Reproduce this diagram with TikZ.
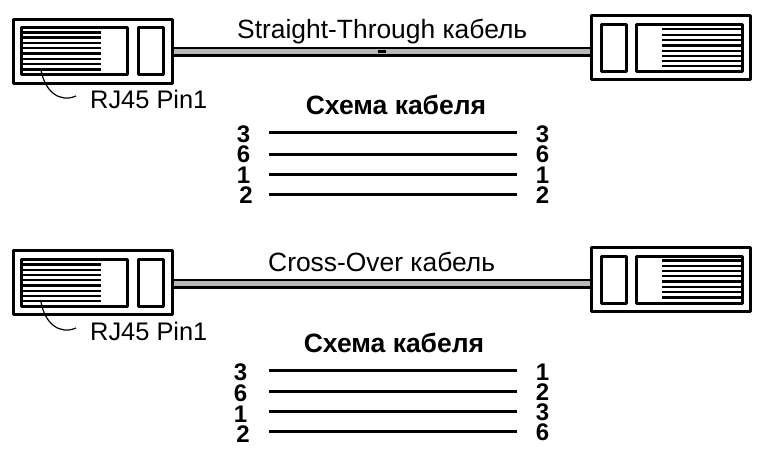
\documentclass[tikz,border=0pt]{standalone}
\usepackage{fontspec}
\setmainfont{Liberation Sans}
\begin{document}
\begin{tikzpicture}[x=1pt,y=-1pt,line join=round,
    plug/.style={draw,line width=3pt,inner sep=0pt,outer sep=0pt,minimum width=159pt,minimum height=64pt},
    slot/.style={draw,line width=3pt,inner sep=0pt,outer sep=0pt,minimum width=106pt,minimum height=47pt},
    clip/.style={draw,line width=3pt,inner sep=0pt,outer sep=0pt,minimum width=25pt,minimum height=47pt},
    cableout/.style={line width=10pt},
    cablein/.style={line width=4.5pt,color=black!28},
    contact/.style={line width=2.3pt},
    wire/.style={line width=3pt},
    leader/.style={line width=1.2pt},
    caption/.style={inner sep=0pt,anchor=base west,font=\fontsize{26.4}{26.4}\selectfont},
    pinlabel/.style={inner sep=0pt,anchor=base west,font=\fontsize{25.4}{25.4}\selectfont},
    heading/.style={inner sep=0pt,anchor=base,font=\fontsize{26.5}{26.5}\selectfont\bfseries},
    pinno/.style={inner sep=0pt,anchor=center,font=\fontsize{24}{24}\selectfont\bfseries}]
  \useasboundingbox (0,0) rectangle (757,450);

  % upper cable
  \coordinate (ca) at (172,51.7);
  \coordinate (cb) at (592,51.7);
  \draw[cableout] (ca) -- (cb);
  \draw[cablein] (ca) -- (cb);
  \coordinate (ta) at (378,51);
  \coordinate (tb) at (386,51);
  \draw[line width=3pt] (ta) -- (tb);
  \node [plug] (a) at (93,51) {};
  \node [slot] (as) at (74,50.5) {};
  \node [clip] (ac) at (151,50.5) {};
  \node [plug] (b) at (671,47) {};
  \node [slot] (bs) at (689.5,47.5) {};
  \node [clip] (bc) at (613.5,47.5) {};

  \draw[contact] (21,32.5) -- (101,32.5);
  \draw[contact] (21,37.5) -- (101,37.5);
  \draw[contact] (21,42.7) -- (101,42.7);
  \draw[contact] (21,48) -- (101,48);
  \draw[contact] (21,53.5) -- (101,53.5);
  \draw[contact] (21,59) -- (101,59);
  \draw[contact] (21,64.2) -- (101,64.2);
  \draw[contact] (21,69.5) -- (101,69.5);

  \draw[contact] (662,29.3) -- (742,29.3);
  \draw[contact] (662,34.7) -- (742,34.7);
  \draw[contact] (662,40) -- (742,40);
  \draw[contact] (662,45.5) -- (742,45.5);
  \draw[contact] (662,50.7) -- (742,50.7);
  \draw[contact] (662,56) -- (742,56);
  \draw[contact] (662,60.7) -- (742,60.7);
  \draw[contact] (662,66) -- (742,66);

  \coordinate (pa) at (41,70);
  \coordinate (pb) at (76,96);
  \draw[leader] (pa) .. controls (45,92) and (60,103) .. (pb);
  \node [pinlabel] (pinlabela) at (90,108.3) {RJ45 Pin1};
  \node [caption] (titlea) at (237,38.3) {Straight-Through кабель};
  \node [heading] (schemea) at (396,114) {Схема кабеля};

  \coordinate (w1a) at (269,132.7);
  \coordinate (w1b) at (517,132.7);
  \coordinate (w2a) at (269,154);
  \coordinate (w2b) at (517,154);
  \coordinate (w3a) at (269,174);
  \coordinate (w3b) at (517,174);
  \coordinate (w4a) at (269,194.3);
  \coordinate (w4b) at (517,194.3);
  \draw[wire] (w1a) -- (w1b);
  \draw[wire] (w2a) -- (w2b);
  \draw[wire] (w3a) -- (w3b);
  \draw[wire] (w4a) -- (w4b);
  \node [pinno] (l1) at (243.5,134) {3};
  \node [pinno] (l2) at (243.5,154) {6};
  \node [pinno] (l3) at (243.5,175) {1};
  \node [pinno] (l4) at (246,195) {2};
  \node [pinno] (r1) at (542.5,134) {3};
  \node [pinno] (r2) at (542.5,154) {6};
  \node [pinno] (r3) at (542.5,175) {1};
  \node [pinno] (r4) at (542.5,195) {2};

  % lower cable
  \coordinate (cc) at (172,283.7);
  \coordinate (cd) at (592,283.7);
  \draw[cableout] (cc) -- (cd);
  \draw[cablein] (cc) -- (cd);
  \node [plug] (c) at (93,282) {};
  \node [slot] (cs) at (74,282.5) {};
  \node [clip] (cl) at (151,282.5) {};
  \node [plug] (d) at (671,279.5) {};
  \node [slot] (ds) at (689.5,279.5) {};
  \node [clip] (dl) at (613.5,279.5) {};

  \draw[contact] (21,264.5) -- (101,264.5);
  \draw[contact] (21,269.7) -- (101,269.7);
  \draw[contact] (21,275) -- (101,275);
  \draw[contact] (21,280.3) -- (101,280.3);
  \draw[contact] (21,285.5) -- (101,285.5);
  \draw[contact] (21,290.7) -- (101,290.7);
  \draw[contact] (21,296) -- (101,296);
  \draw[contact] (21,301) -- (101,301);

  \draw[contact] (662,260.5) -- (742,260.5);
  \draw[contact] (662,265.8) -- (742,265.8);
  \draw[contact] (662,271) -- (742,271);
  \draw[contact] (662,276.3) -- (742,276.3);
  \draw[contact] (662,281.5) -- (742,281.5);
  \draw[contact] (662,287) -- (742,287);
  \draw[contact] (662,292.2) -- (742,292.2);
  \draw[contact] (662,297.5) -- (742,297.5);

  \coordinate (pc) at (41,302);
  \coordinate (pd) at (76,328);
  \draw[leader] (pc) .. controls (45,324) and (60,335) .. (pd);
  \node [pinlabel] (pinlabelb) at (90,340) {RJ45 Pin1};
  \node [caption] (titleb) at (268,271) {Cross-Over кабель};
  \node [heading] (schemeb) at (394,352) {Схема кабеля};

  \coordinate (w5a) at (269,370);
  \coordinate (w5b) at (517,370);
  \coordinate (w6a) at (269,391.7);
  \coordinate (w6b) at (517,391.7);
  \coordinate (w7a) at (269,411);
  \coordinate (w7b) at (517,411);
  \coordinate (w8a) at (269,431.7);
  \coordinate (w8b) at (517,431.7);
  \draw[wire] (w5a) -- (w5b);
  \draw[wire] (w6a) -- (w6b);
  \draw[wire] (w7a) -- (w7b);
  \draw[wire] (w8a) -- (w8b);
  \node [pinno] (l5) at (240.5,372) {3};
  \node [pinno] (l6) at (240.5,393) {6};
  \node [pinno] (l7) at (240.5,414) {1};
  \node [pinno] (l8) at (243,434) {2};
  \node [pinno] (r5) at (542.5,372) {1};
  \node [pinno] (r6) at (542.5,392) {2};
  \node [pinno] (r7) at (542.5,412) {3};
  \node [pinno] (r8) at (542.5,432) {6};
\end{tikzpicture}
\end{document}
